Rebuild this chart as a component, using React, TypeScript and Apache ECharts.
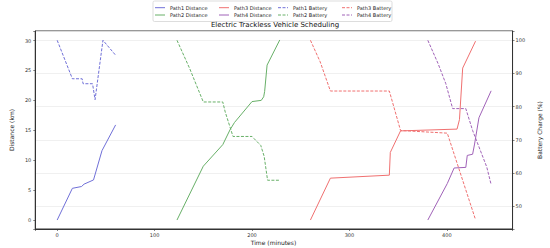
import React, { useEffect, useRef } from 'react';
import * as echarts from 'echarts';

// ---- data (time in minutes, distance in km, battery in %) ----
const path1Time = [0, 15.6, 25, 27.6, 37.3, 46, 60];
const path1Dist = [0, 5.3, 5.6, 6.0, 6.7, 11.6, 15.9];
const path1BattTime = [0, 15.6, 25.6, 26.6, 36.3, 38.9, 47, 60];
const path1Batt = [100, 88.4, 88.4, 86.9, 86.9, 82.1, 100, 95.5];

const path2Time = [123, 150, 170, 177.5, 182, 200, 209.5, 212, 213, 215.5, 228.5];
const path2Dist = [0, 9.0, 12.6, 15.1, 16.3, 19.8, 20.0, 20.6, 21.5, 25.9, 30.1];
const path2BattTime = [123, 136, 150, 170, 172.5, 180.5, 200, 209, 212.5, 216, 228.5];
const path2Batt = [100, 91.5, 81.4, 81.4, 78.4, 71.0, 71.0, 68.3, 65.0, 57.8, 57.8];

const path3Time = [260, 280.5, 341, 342, 352.5, 410.5, 413, 416.3, 429.5];
const path3Dist = [0, 7.0, 7.5, 11.3, 14.9, 15.2, 16.8, 25.4, 29.9];
const path3BattTime = [260, 270, 280.5, 341, 352.5, 400.5, 429.5];
const path3Batt = [100, 93.5, 84.7, 84.7, 72.8, 72.0, 45.9];

const path4Time = [380.5, 400.5, 407.5, 419.5, 421, 426.5, 428.5, 433, 445.5];
const path4Dist = [0, 6.1, 8.7, 8.8, 10.8, 11.0, 12.7, 17.1, 21.6];
const path4BattTime = [380.5, 391, 399, 406, 419.5, 426.5, 441, 445.5];
const path4Batt = [100, 93, 86.9, 79.4, 79.4, 72.8, 61.8, 56.5];

const xTicks = [0, 100, 200, 300, 400];
const distTicks = [0, 5, 10, 15, 20, 25, 30];
const battTicks = [50, 60, 70, 80, 90, 100];

// legend order: column-major, 2 rows x 4 columns
const legendNames = [
  'Path1 Distance', 'Path2 Distance',
  'Path3 Distance', 'Path4 Distance',
  'Path1 Battery', 'Path2 Battery',
  'Path3 Battery', 'Path4 Battery',
];

const colors = ['#7070d8', '#68b068', '#f07070', '#a062b8'];

const zip = (a: number[], b: number[]) => a.map((v, i) => [v, b[i]]);

const FONT = 'DejaVu Sans';
const DASH = [3, 1.5];

export default function App() {
  const ref = useRef<HTMLDivElement>(null);
  useEffect(() => {
    document.body.style.margin = '0';
    const chart = echarts.init(ref.current!, null, { renderer: 'svg' });

    const mk = (name: string, data: number[][], color: string, dashed: boolean, yIdx: number) => ({
      name,
      type: 'line',
      yAxisIndex: yIdx,
      data,
      symbol: 'none',
      smooth: false,
      lineStyle: { color, width: 1, type: dashed ? DASH : 'solid' },
      itemStyle: { color },
      emphasis: { disabled: true },
    });

    const series = [
      mk('Path1 Distance', zip(path1Time, path1Dist), colors[0], false, 0),
      mk('Path2 Distance', zip(path2Time, path2Dist), colors[1], false, 0),
      mk('Path3 Distance', zip(path3Time, path3Dist), colors[2], false, 0),
      mk('Path4 Distance', zip(path4Time, path4Dist), colors[3], false, 0),
      mk('Path1 Battery', zip(path1BattTime, path1Batt), colors[0], true, 1),
      mk('Path2 Battery', zip(path2BattTime, path2Batt), colors[1], true, 1),
      mk('Path3 Battery', zip(path3BattTime, path3Batt), colors[2], true, 1),
      mk('Path4 Battery', zip(path4BattTime, path4Batt), colors[3], true, 1),
    ];

    // manual legend (matplotlib-like: line sample + label, framed box)
    const colX = [155, 219, 278, 342];
    const rowY = [7.7, 15];
    const legendGraphics: any[] = [
      {
        type: 'rect',
        shape: { x: 153, y: 1, width: 239, height: 20.5, r: 1.5 },
        style: { fill: 'rgba(255,255,255,0.8)', stroke: '#d4d4d4', lineWidth: 0.8 },
        z: 1,
      },
    ];
    legendNames.forEach((name, i) => {
      const col = Math.floor(i / 2);
      const row = i % 2;
      const s = series.find((x) => x.name === name)!;
      const x = colX[col];
      const y = rowY[row];
      legendGraphics.push({
        type: 'line',
        shape: { x1: x, y1: y, x2: x + 10, y2: y },
        style: {
          stroke: s.lineStyle.color,
          lineWidth: 1,
          lineDash: s.lineStyle.type === 'solid' ? null : DASH,
        },
        z: 2,
      });
      legendGraphics.push({
        type: 'text',
        x: x + 15,
        y,
        style: {
          text: name,
          fontFamily: FONT,
          fontSize: 5,
          fill: '#222',
          verticalAlign: 'middle',
          align: 'left',
        },
        z: 2,
      });
    });

    const fmt = (ticks: number[]) => (v: number) =>
      ticks.some((t) => Math.abs(t - v) < 1e-6) ? String(v) : '';

    const axisLine = { show: true, onZero: false, lineStyle: { color: '#333', width: 1 } };
    const axisTick = { show: true, length: 2, lineStyle: { color: '#333', width: 0.6 } };

    chart.setOption({
      animation: false,
      textStyle: { fontFamily: FONT },
      title: {
        text: 'Electric Trackless Vehicle Scheduling',
        left: 'center',
        top: 21.3,
        padding: 0,
        z: 8,
        textStyle: { fontFamily: FONT, fontSize: 7, fontWeight: 'normal', color: '#111' },
      },
      graphic: [
        ...legendGraphics,
        {
          type: 'text',
          x: 273.5,
          y: 242,
          style: {
            text: 'Time (minutes)',
            fontFamily: FONT,
            fontSize: 6,
            fill: '#222',
            align: 'center',
            verticalAlign: 'middle',
          },
        },
      ],
      grid: {
        left: 21,
        right: 24,
        top: 31,
        bottom: 19,
        show: true,
        borderColor: '#333',
        borderWidth: 1,
        backgroundColor: 'transparent',
      },
      xAxis: {
        type: 'value',
        min: -22.5,
        max: 467.5,
        splitNumber: 5,
        axisLine,
        axisTick,
        axisLabel: {
          fontFamily: FONT,
          fontSize: 5,
          color: '#333',
          margin: 3,
          formatter: fmt(xTicks),
        },
        splitLine: { show: false },
      },
      yAxis: [
        {
          type: 'value',
          min: -1.5,
          max: 31.6,
          splitNumber: 6,
          position: 'left',
          name: 'Distance (km)',
          nameLocation: 'middle',
          nameGap: 12,
          nameTextStyle: { fontFamily: FONT, fontSize: 6, color: '#222' },
          axisLine,
          axisTick,
          axisLabel: {
            fontFamily: FONT,
            fontSize: 5,
            color: '#333',
            margin: 4,
            formatter: fmt(distTicks),
          },
          splitLine: { show: false },
        },
        {
          type: 'value',
          min: 43.1,
          max: 102.8,
          splitNumber: 6,
          position: 'right',
          name: 'Battery Charge (%)',
          nameLocation: 'middle',
          nameGap: 18.5,
          nameTextStyle: { fontFamily: FONT, fontSize: 6, color: '#222' },
          axisLine,
          axisTick,
          axisLabel: {
            fontFamily: FONT,
            fontSize: 5,
            color: '#333',
            margin: 3,
            formatter: fmt(battTicks),
          },
          splitLine: { show: true, lineStyle: { color: '#ececec', width: 0.8 } },
        },
      ],
      series,
    });

    return () => chart.dispose();
  }, []);
  return <div ref={ref} style={{ width: 550, height: 248 }} />;
}
